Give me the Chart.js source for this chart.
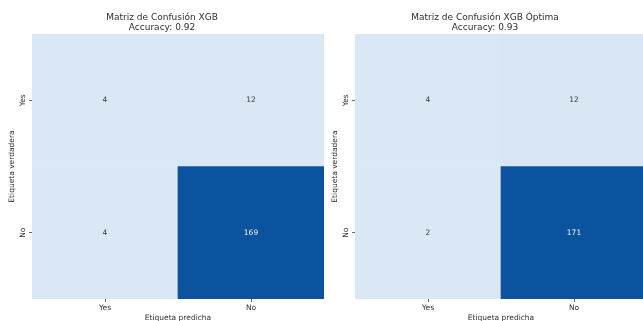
<!DOCTYPE html>
<html>
<head>
<meta charset="utf-8">
<script src="https://cdn.jsdelivr.net/npm/chart.js@4"></script>
<style>
  html, body { margin: 0; padding: 0; background: #ffffff; }
  body { width: 643px; height: 321px; overflow: hidden; position: relative; }
  .panel { position: absolute; top: 0; width: 356px; height: 326px; }
  .panel canvas { display: block; }
</style>
</head>
<body>
<div class="panel" id="p1" style="left:0px"><canvas id="cm1" width="356" height="326"></canvas></div>
<div class="panel" id="p2" style="left:323px"><canvas id="cm2" width="356" height="326"></canvas></div>
<script>
// Class labels (rows = true label, columns = predicted label)
const predLabels = ['Yes', 'No'];
const trueLabels = ['Yes', 'No'];

// Confusion matrices
const cmXgb = [
  [4, 12],
  [4, 169]
];
const cmXgbOpt = [
  [4, 12],
  [2, 171]
];

const titlesXgb = ['Matriz de Confusión XGB', 'Accuracy: 0.92'];
const titlesXgbOpt = ['Matriz de Confusión XGB Óptima', 'Accuracy: 0.93'];

const xTitle = 'Etiqueta predicha';
const yTitle = 'Etiqueta verdadera';

const FONT = 'DejaVu Sans, Liberation Sans, sans-serif';
const TEXT = '#2e2e2e';
const LIGHT = [218, 232, 245];
const DARK = [11, 83, 158];

// Blue ramp: stays pale for small counts, deep blue at the maximum
function cellColor(v, lo, hi) {
  const t = hi === lo ? 0 : Math.pow((v - lo) / (hi - lo), 2);
  const c = LIGHT.map((a, i) => Math.round(a + (DARK[i] - a) * t));
  return `rgb(${c[0]},${c[1]},${c[2]})`;
}

// Writes each count in the middle of its cell
const cellValues = {
  id: 'cellValues',
  afterDatasetsDraw(chart) {
    const ctx = chart.ctx;
    const { lo, hi } = chart.options.plugins.cellValues;
    ctx.save();
    ctx.font = `7.5px ${FONT}`;
    ctx.textAlign = 'center';
    ctx.textBaseline = 'middle';
    chart.data.datasets.forEach((ds, di) => {
      const meta = chart.getDatasetMeta(di);
      meta.data.forEach((bar, ci) => {
        const v = ds.counts[ci];
        const t = (v - lo) / (hi - lo);
        ctx.fillStyle = t > 0.5 ? '#f4f4f4' : '#3a3a3a';
        const p = bar.getProps(['x', 'y', 'base'], true);
        ctx.fillText(String(v), p.x, (p.y + p.base) / 2);
      });
    });
    ctx.restore();
  }
};

function buildChart(canvasId, cm, titleLines) {
  const flat = cm.flat();
  const lo = Math.min(...flat);
  const hi = Math.max(...flat);
  // Stacked from the bottom: last true-label row first
  const rows = trueLabels.map((lab, r) => r).reverse();
  const datasets = rows.map(r => ({
    label: trueLabels[r],
    data: predLabels.map(() => 1),
    counts: cm[r],
    backgroundColor: cm[r].map(v => cellColor(v, lo, hi)),
    borderWidth: 0,
    barPercentage: 1,
    categoryPercentage: 1
  }));

  return new Chart(document.getElementById(canvasId), {
    type: 'bar',
    data: { labels: predLabels, datasets },
    options: {
      responsive: false,
      animation: false,
      events: [],
      layout: { padding: { left: 0, right: 32, top: 0, bottom: 0 } },
      plugins: {
        legend: { display: false },
        tooltip: { enabled: false },
        title: {
          display: true,
          text: titleLines,
          color: TEXT,
          font: { family: FONT, size: 9, weight: 'normal', lineHeight: 1.13 },
          padding: { top: 12.4, bottom: 1.3 }
        },
        cellValues: { lo, hi }
      },
      scales: {
        x: {
          stacked: true,
          offset: true,
          grid: { offset: false, drawOnChartArea: false, drawTicks: true, tickLength: 3, color: '#666666' },
          border: { display: false },
          ticks: { color: TEXT, font: { family: FONT, size: 7.5 }, padding: 2, maxRotation: 0 },
          title: { display: true, text: xTitle, color: TEXT, font: { family: FONT, size: 7.5, lineHeight: 1.2 }, padding: { top: 0, bottom: 3.3 } },
          afterFit(scale) { scale.height = 27; }
        },
        y: {
          stacked: true,
          min: 0,
          max: 2,
          grid: { drawOnChartArea: false, drawTicks: true, tickLength: 3, color: '#666666' },
          border: { display: false },
          afterBuildTicks(scale) { scale.ticks = [{ value: 0.5 }, { value: 1.5 }]; },
          ticks: {
            color: TEXT,
            font: { family: FONT, size: 7.5 },
            padding: 0,
            minRotation: 90,
            maxRotation: 90,
            crossAlign: 'center',
            callback(value) { return value > 1 ? trueLabels[0] : trueLabels[1]; }
          },
          title: { display: true, text: yTitle, color: TEXT, font: { family: FONT, size: 7.5, lineHeight: 1.2 }, padding: { top: 7.2, bottom: 0 } },
          afterFit(scale) { scale.width = 32; }
        }
      }
    },
    plugins: [cellValues]
  });
}

buildChart('cm1', cmXgb, titlesXgb);
buildChart('cm2', cmXgbOpt, titlesXgbOpt);
</script>
</body>
</html>
